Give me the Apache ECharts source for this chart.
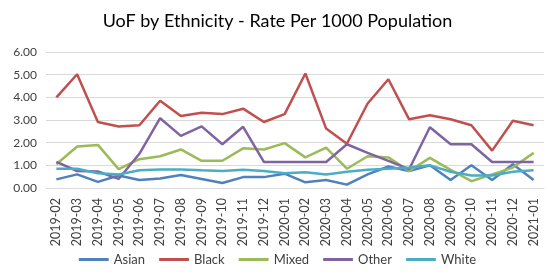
<!DOCTYPE html>
<html lang="en">
<head>
    <meta charset="UTF-8">
    <title>UoF by Ethnicity</title>
    <script src="https://cdn.jsdelivr.net/npm/echarts@6/dist/echarts.min.js"></script>
</head>
<body style="margin:0">
<div id="main" style="width: 555px;height: 272px"></div>
<script>
    var months = ['2019-02','2019-03','2019-04','2019-05','2019-06','2019-07','2019-08','2019-09','2019-10','2019-11','2019-12','2020-01',
        '2020-02','2020-03','2020-04','2020-05','2020-06','2020-07','2020-08','2020-09','2020-10','2020-11','2020-12','2021-01'];
    var asian = [0.38,0.60,0.27,0.55,0.35,0.42,0.57,0.40,0.22,0.48,0.48,0.63,0.25,0.35,0.15,0.60,0.95,0.75,1.00,0.35,1.00,0.35,1.05,0.35];
    var black = [4.00,5.02,2.91,2.71,2.77,3.85,3.18,3.32,3.26,3.50,2.91,3.26,5.05,2.62,1.95,3.73,4.80,3.03,3.21,3.03,2.77,1.65,2.97,2.77];
    var mixed = [1.05,1.83,1.90,0.83,1.27,1.40,1.70,1.20,1.20,1.75,1.70,1.98,1.35,1.78,0.85,1.40,1.35,0.75,1.33,0.80,0.30,0.60,0.90,1.55];
    var other = [1.15,0.75,0.73,0.40,1.51,3.08,2.30,2.72,1.93,2.70,1.15,1.15,1.15,1.15,1.93,1.55,1.20,0.83,2.68,1.93,1.93,1.15,1.15,1.15];
    var white = [0.85,0.85,0.65,0.60,0.78,0.82,0.82,0.78,0.75,0.80,0.75,0.65,0.70,0.60,0.72,0.80,0.85,0.90,1.00,0.72,0.55,0.55,0.72,0.78];

    var names = ['Asian','Black','Mixed','Other','White'];
    var colors = ['#4F81BD','#C0504D','#9BBB59','#8064A2','#4BACC6'];
    var values = [asian, black, mixed, other, white];

    var myChart = echarts.init(document.getElementById('main'));
    var font = 'Lato, "Open Sans", sans-serif';

    var series = [];
    for (var i = 0; i < names.length; i++) {
        series.push({
            name: names[i],
            type: 'line',
            data: values[i],
            symbol: 'none',
            lineStyle: {width: 2.5, color: colors[i]},
            itemStyle: {color: colors[i]}
        });
    }

    var option = {
        animation: false,
        title: {   // chart title
            text: 'UoF by Ethnicity - Rate Per 1000 Population',
            left: 'center',
            top: 7,
            textStyle: {fontFamily: font, fontSize: 18, fontWeight: 'normal', color: '#000'}
        },
        legend: {
            data: names,
            top: 251,
            padding: 2,
            left: 'center',
            icon: 'roundRect',
            itemWidth: 30,
            itemHeight: 3,
            itemGap: 14,
            textStyle: {fontFamily: font, fontSize: 13, color: '#404040'}
        },
        grid: {
            left: 46,
            right: 11,
            top: 52,
            height: 136
        },
        xAxis: {
            type: 'category',
            data: months,
            boundaryGap: true,
            axisLine: {lineStyle: {color: '#d9d9d9'}},
            axisTick: {show: false},
            axisLabel: {rotate: 90, interval: 0, fontFamily: font, fontSize: 12.5, color: '#404040', margin: 10}
        },
        yAxis: {
            type: 'value',
            min: 0,
            max: 6,
            interval: 1,
            axisLine: {show: false},
            axisTick: {show: false},
            splitLine: {lineStyle: {color: '#d9d9d9'}},
            axisLabel: {
                fontFamily: font, fontSize: 12, color: '#404040', margin: 9,
                formatter: function (v) { return v.toFixed(2); }
            }
        },
        series: series
    };

    myChart.setOption(option);
</script>
</body>
</html>
